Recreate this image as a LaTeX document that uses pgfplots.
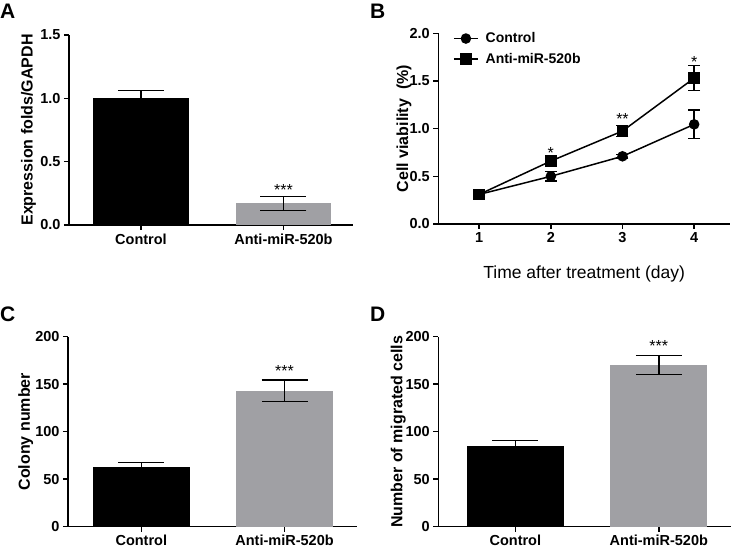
\documentclass[border=0pt]{standalone}
\usepackage{fontspec}
\setmainfont{Liberation Sans}
\usepackage{pgfplots}
\pgfplotsset{compat=1.18}
\definecolor{bargray}{RGB}{160,160,164}
\pgfplotsset{
  gp/.style={
    scale only axis,
    axis x line=bottom, axis y line=left,
    axis line style={line width=1.5pt, -},
    major tick style={line width=1.5pt, black},
    major tick length=5pt,
    tick align=outside,
    /pgf/number format/assume math mode=true,
    tick label style={font=\fontsize{14.5}{16}\selectfont\bfseries},
    label style={font=\fontsize{16}{18}\selectfont\bfseries},
    ymin=0,
    clip=false,
    anchor=south west,
  },
  gpbar/.style={
    gp, xtick={0,1}, xticklabels={Control, Anti-miR-520b},
  },
  ebar/.style={error bars/.cd, y dir=#1, y explicit,
    error bar style={line width=1.5pt, black},
    error mark options={rotate=90, mark size=23pt, line width=1.5pt, black}},
}
\tikzset{
  ast/.style={anchor=base, inner sep=0pt, font=\fontsize{16}{18}\selectfont},
  panel/.style={anchor=base west, inner sep=0pt, font=\fontsize{21}{21}\selectfont\bfseries},
}
\begin{document}
\begin{tikzpicture}
\useasboundingbox (0pt,0pt) rectangle (731pt,548pt);
% Panel A
\begin{axis}[gpbar, at={(69pt,323pt)}, width=284pt, height=190pt,
  xmin=-0.505, xmax=1.488, ymax=1.5, ytick={0,0.5,1,1.5},
  yticklabel style={/pgf/number format/.cd, fixed, fixed zerofill, precision=1},
  ylabel={Expression folds/GAPDH},
  ylabel style={at={(axis description cs:-0.1426,0.5)}, anchor=center}]
\addplot[ybar, bar width=96pt, bar shift=0pt, fill=black, draw=none, ebar=plus]
  coordinates {(0,1.0) +- (0,0.063)};
\addplot[ybar, bar width=95pt, bar shift=0pt, fill=bargray, draw=none, ebar=both]
  coordinates {(1,0.17) +- (0,0.055)};
\node[ast] at (axis cs:1,0.232) {***};
\end{axis}
% Panel B
\begin{axis}[gp, at={(438.3pt,324pt)}, width=291.7pt, height=190.7pt,
  xmin=0.43, xmax=4.5, ymax=2, xtick={1,2,3,4}, ytick={0,0.5,1,1.5,2},
  yticklabel style={/pgf/number format/.cd, fixed, fixed zerofill, precision=1},
  ylabel={Cell viability\ \ (\%)},
  ylabel style={at={(axis description cs:-0.1176,0.5)}, anchor=center},
  xlabel={Time after treatment (day)},
  xlabel style={font=\fontsize{17.5}{20}\selectfont, yshift=-16pt},
  legend style={draw=none, fill=none, at={(axis description cs:0.04,1.025)}, anchor=north west,
    font=\fontsize{14}{16}\selectfont\bfseries, row sep=5pt,
    /tikz/every odd column/.append style={column sep=5pt}},
  legend cell align=left,
  legend image code/.code={\draw[mark repeat=2,mark phase=2] plot coordinates {(0pt,0pt) (12pt,0pt) (24pt,0pt)};}]
\addplot[black, line width=1.5pt, mark=*, mark size=4.5pt,
  error bars/.cd, y dir=both, y explicit, error bar style={line width=1.5pt},
  error mark options={rotate=90, mark size=6pt, line width=1.5pt}]
  coordinates {(1,0.31) +- (0,0.01) (2,0.50) +- (0,0.05) (3,0.71) +- (0,0.02) (4,1.045) +- (0,0.15)};
\addlegendentry{Control}
\addplot[black, line width=1.5pt, mark=square*, mark size=5pt,
  error bars/.cd, y dir=both, y explicit, error bar style={line width=1.5pt},
  error mark options={rotate=90, mark size=6pt, line width=1.5pt}]
  coordinates {(1,0.31) +- (0,0.02) (2,0.66) +- (0,0.02) (3,0.975) +- (0,0.06) (4,1.53) +- (0,0.13)};
\addlegendentry{Anti-miR-520b}
\node[ast] at (axis cs:2,0.69) {*};
\node[ast] at (axis cs:3,1.04) {**};
\node[ast] at (axis cs:4,1.64) {*};
\end{axis}
% Panel C
\begin{axis}[gpbar, at={(68pt,21.3pt)}, width=289pt, height=190pt,
  xmin=-0.512, xmax=1.506, ymax=200, ytick={0,50,100,150,200},
  ylabel={Colony number},
  ylabel style={at={(axis description cs:-0.146,0.5)}, anchor=center}]
\addplot[ybar, bar width=97pt, bar shift=0pt, fill=black, draw=none, ebar=plus]
  coordinates {(0,62.5) +- (0,4.9)};
\addplot[ybar, bar width=97pt, bar shift=0pt, fill=bargray, draw=none, ebar=both]
  coordinates {(1,143) +- (0,11.4)};
\node[ast] at (axis cs:1,157.6) {***};
\end{axis}
% Panel D
\begin{axis}[gpbar, at={(438.3pt,21.3pt)}, width=292.7pt, height=190pt,
  xmin=-0.537, xmax=1.503, ymax=200, ytick={0,50,100,150,200},
  ylabel={Number of migrated cells},
  ylabel style={at={(axis description cs:-0.1367,0.5)}, anchor=center}]
\addplot[ybar, bar width=97pt, bar shift=0pt, fill=black, draw=none, ebar=plus]
  coordinates {(0,85) +- (0,5.5)};
\addplot[ybar, bar width=97pt, bar shift=0pt, fill=bargray, draw=none, ebar=both]
  coordinates {(1,170) +- (0,10)};
\node[ast] at (axis cs:1,184) {***};
\end{axis}
\node[panel] at (0pt,529pt) {A};
\node[panel] at (370pt,529.7pt) {B};
\node[panel] at (0pt,226pt) {C};
\node[panel] at (370pt,226.3pt) {D};
\end{tikzpicture}
\end{document}
